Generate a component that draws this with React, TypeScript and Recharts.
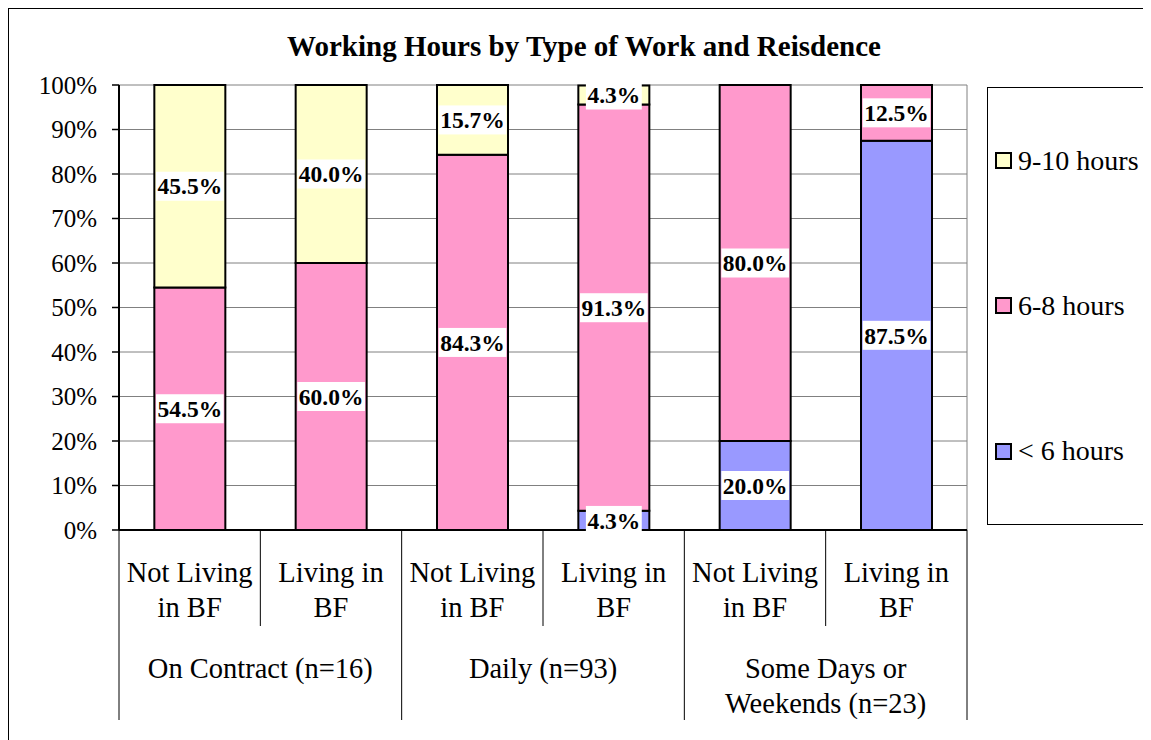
import React from 'react';
import { BarChart, Bar, XAxis, YAxis, CartesianGrid, Legend, LabelList } from 'recharts';

if (typeof document !== 'undefined') {
  document.body.style.overflow = 'hidden';
}

// ---- data ----
const subCategories = ['Not Living\nin BF', 'Living in\nBF', 'Not Living\nin BF', 'Living in\nBF', 'Not Living\nin BF', 'Living in\nBF'];
const groupLabels = ['On Contract (n=16)', 'Daily (n=93)', 'Some Days or\nWeekends (n=23)'];
const lessThan6 = [0, 0, 0, 4.3, 20.0, 87.5];
const sixToEight = [54.5, 60.0, 84.3, 91.3, 80.0, 12.5];
const nineToTen = [45.5, 40.0, 15.7, 4.3, 0, 0];
const yTicks = [0, 10, 20, 30, 40, 50, 60, 70, 80, 90, 100];
const seriesNames = { lt6: '< 6 hours', h68: '6-8 hours', h910: '9-10 hours' };
const seriesColors = { lt6: '#9999FF', h68: '#FF99CC', h910: '#FFFFCC' };
const legendOrder: (keyof typeof seriesNames)[] = ['h910', 'h68', 'lt6'];
const title = 'Working Hours by Type of Work and Reisdence';

const data = subCategories.map((label, i) => ({
  key: `c${i}`,
  label,
  lt6: lessThan6[i],
  h68: sixToEight[i],
  h910: nineToTen[i],
}));

// ---- layout ----
const W = 1143;
const H = 732;
const MARGIN = { top: 77, right: 184, bottom: 10, left: 0 };
const Y_AXIS_W = 111;
const X_AXIS_H = 200;
const PLOT_W = W - MARGIN.right - MARGIN.left - Y_AXIS_W;
const BAND = PLOT_W / subCategories.length;
const FONT = "'Liberation Serif', 'DejaVu Serif', 'Times New Roman', Times, serif";
const CAT_FS = 28.5;

const XTick = (props: any) => {
  const { x, y, payload } = props;
  const i = Number(String(payload.value).slice(1));
  const half = BAND / 2;
  const lines = subCategories[i].split('\n');
  const last = subCategories.length - 1;
  const els: any[] = [];
  lines.forEach((l, k) => {
    els.push(
      <text key={`s${k}`} x={x} y={y + 52 + k * 34.5} textAnchor="middle" fill="#000" style={{ fontFamily: FONT, fontSize: CAT_FS }}>
        {l}
      </text>
    );
  });
  if (i % 2 === 0) {
    els.push(<line key="sub" x1={x + half} x2={x + half} y1={y} y2={y + 96} stroke="#000" strokeWidth={1} />);
    els.push(<line key="gl" x1={x - half} x2={x - half} y1={y} y2={y + 190} stroke="#000" strokeWidth={1} />);
  }
  if (i === last) {
    els.push(<line key="gr" x1={x + half} x2={x + half} y1={y} y2={y + 190} stroke="#000" strokeWidth={1} />);
  }
  if (i % 2 === 1) {
    const g = groupLabels[Math.floor(i / 2)].split('\n');
    g.forEach((l, k) => {
      els.push(
        <text key={`g${k}`} x={x - half} y={y + 148 + k * 34.5} textAnchor="middle" fill="#000" style={{ fontFamily: FONT, fontSize: CAT_FS }}>
          {l}
        </text>
      );
    });
  }
  return <g>{els}</g>;
};

const charW = (ch: string) => (ch === '.' ? 0.25 : ch === '%' ? 1.0 : 0.5);

const renderLabel = (props: any) => {
  const vb = props.viewBox ?? props;
  const value = props.value;
  if (!value || Number(value) === 0) return null;
  const x = vb.x;
  const width = vb.width;
  const y = Math.min(vb.y, vb.y + vb.height);
  const height = Math.abs(vb.height);
  const text = Number(value).toFixed(1) + '%';
  const fs = 23.5;
  const tw = text.split('').reduce((s, c) => s + charW(c), 0) * fs;
  const cx = x + width / 2;
  const cy = y + height / 2;
  return (
    <g>
      <rect x={cx - tw / 2 - 1.5} y={cy - 14.5} width={tw + 3} height={29} fill="#fff" />
      <text x={cx} y={cy} dy="0.35em" textAnchor="middle" fill="#000" style={{ fontFamily: FONT, fontSize: fs, fontWeight: 'bold' }}>
        {text}
      </text>
    </g>
  );
};

const renderLegend = () => (
  <div
    style={{
      width: 161,
      height: 438,
      border: '1px solid #000',
      boxSizing: 'border-box',
      display: 'flex',
      flexDirection: 'column',
      background: '#fff',
      fontFamily: FONT,
    }}
  >
    {legendOrder.map((k) => (
      <div key={k} style={{ flex: 1, display: 'flex', alignItems: 'center', paddingLeft: 7 }}>
        <span
          style={{
            display: 'inline-block',
            width: 13,
            height: 13,
            border: '2px solid #000',
            background: seriesColors[k],
            marginRight: 6,
            flexShrink: 0,
          }}
        />
        <span style={{ fontSize: 28, lineHeight: '28px', color: '#000', whiteSpace: 'nowrap' }}>{seriesNames[k]}</span>
      </div>
    ))}
  </div>
);

export default function App() {
  return (
    <div style={{ position: 'relative', width: W, height: H, fontFamily: FONT }}>
      <div style={{ position: 'absolute', left: -1, top: -1, width: W + 1, height: 2, background: '#000' }} />
      <div style={{ position: 'absolute', left: -1, top: -1, width: 2, height: H + 1, background: '#000' }} />
      <div
        style={{
          position: 'absolute',
          left: 176,
          top: 24,
          width: 800,
          textAlign: 'center',
          fontSize: 29,
          lineHeight: '29px',
          fontWeight: 'bold',
          color: '#000',
          zIndex: 2,
          fontFamily: FONT,
        }}
      >
        {title}
      </div>
      <BarChart width={W} height={H} data={data} margin={MARGIN} barCategoryGap="25%" style={{ fontFamily: FONT }}>
        <CartesianGrid
          stroke="#808080"
          strokeWidth={1}
          vertical={true}
          verticalCoordinatesGenerator={({ offset }: any) => [offset.left + offset.width]}
        />
        <XAxis
          dataKey="key"
          height={X_AXIS_H}
          interval={0}
          tickLine={false}
          tickSize={0}
          tickMargin={0}
          axisLine={{ stroke: '#000', strokeWidth: 2 }}
          tick={<XTick />}
        />
        <YAxis
          width={Y_AXIS_W}
          domain={[0, 100]}
          ticks={yTicks}
          interval={0}
          tickFormatter={(v: number) => `${v}%`}
          tickSize={7}
          tickMargin={15}
          axisLine={{ stroke: '#000', strokeWidth: 2 }}
          tickLine={{ stroke: '#000', strokeWidth: 1.5 }}
          tick={{ fill: '#000', fontSize: 25, style: { fontFamily: FONT } }}
        />
        <Legend
          layout="vertical"
          align="center"
          verticalAlign="middle"
          wrapperStyle={{ left: 979, top: 79, width: 161, height: 438 }}
          content={renderLegend}
        />
        <Bar dataKey="lt6" name={seriesNames.lt6} stackId="a" fill={seriesColors.lt6} stroke="#000" strokeWidth={2} isAnimationActive={false}>
          <LabelList dataKey="lt6" content={renderLabel} />
        </Bar>
        <Bar dataKey="h68" name={seriesNames.h68} stackId="a" fill={seriesColors.h68} stroke="#000" strokeWidth={2} isAnimationActive={false}>
          <LabelList dataKey="h68" content={renderLabel} />
        </Bar>
        <Bar dataKey="h910" name={seriesNames.h910} stackId="a" fill={seriesColors.h910} stroke="#000" strokeWidth={2} isAnimationActive={false}>
          <LabelList dataKey="h910" content={renderLabel} />
        </Bar>
      </BarChart>
    </div>
  );
}
